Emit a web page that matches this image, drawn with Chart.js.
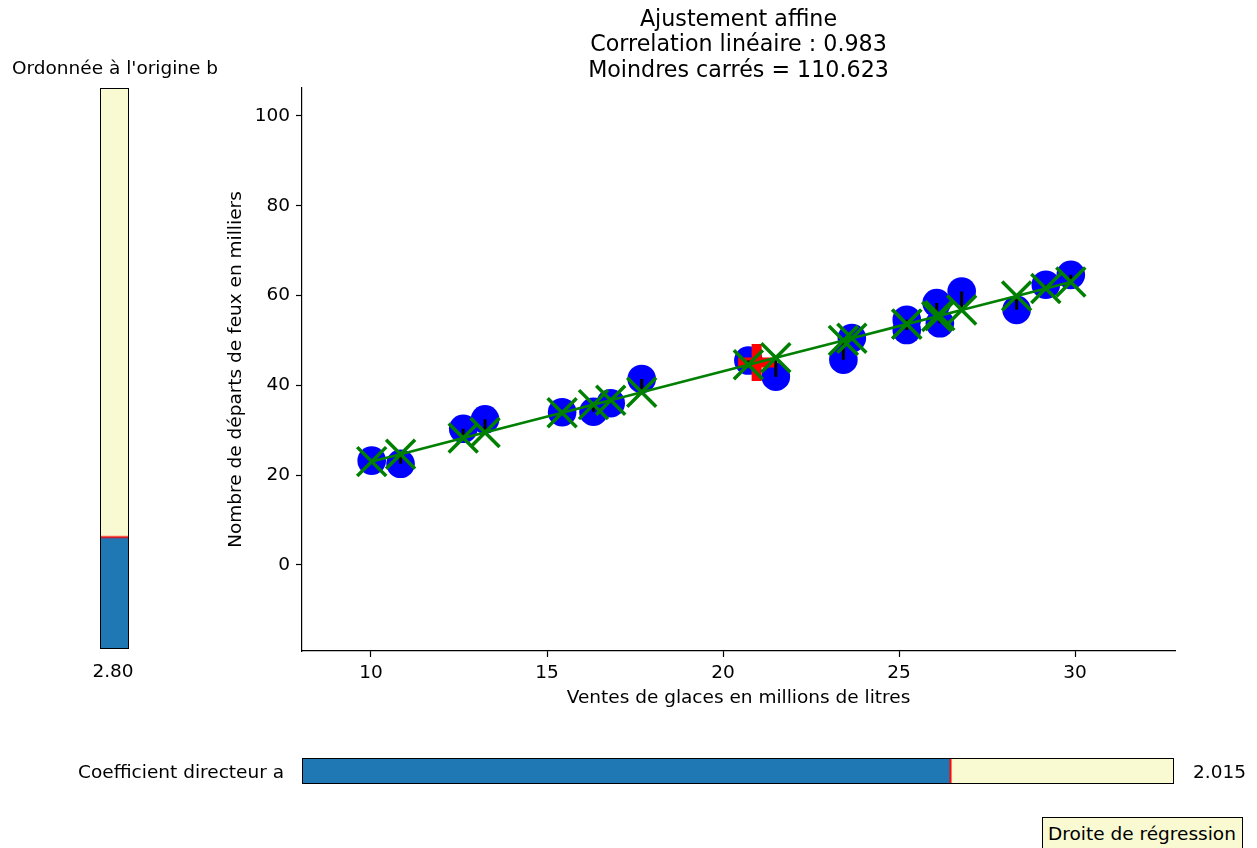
<!DOCTYPE html>
<html>
<head>
<meta charset="utf-8">
<script src="https://cdn.jsdelivr.net/npm/chart.js@4"></script>
<style>
  body { margin: 0; width: 1257px; height: 848px; overflow: hidden; background: #fff;
         font-family: "DejaVu Sans", sans-serif; font-size: 18.5px; color: #000; position: relative; }
  .abs { position: absolute; white-space: nowrap; }
  canvas.slider { position: absolute; background: #fafad2; border: 1px solid #000; }
  .btn { position: absolute; left: 1042px; top: 817px; width: 199px; height: 40px;
         background: #fafad2; border: 1px solid #000; }
</style>
</head>
<body>
<canvas id="main" width="1257" height="848" style="position:absolute;left:0;top:0"></canvas>

<div class="abs" style="left:115px;top:67px;transform:translate(-50%,-50%)">Ordonnée à l'origine b</div>
<canvas id="sliderB" class="slider" width="29" height="561" style="left:100px;top:88px"></canvas>
<div class="abs" style="left:113px;top:670px;transform:translate(-50%,-50%)" id="bLabel"></div>

<div class="abs" style="right:973px;top:771px;transform:translateY(-50%)">Coefficient directeur a</div>
<canvas id="sliderA" class="slider" width="872" height="26" style="left:302px;top:758px"></canvas>
<div class="abs" style="left:1193px;top:771px;transform:translateY(-50%)" id="aLabel"></div>

<div class="btn"></div>
<div class="abs" style="left:1142px;top:833px;transform:translate(-50%,-50%)">Droite de régression</div>

<script>
// data
const ventes = [10.02, 10.84, 12.62, 13.24, 15.43, 16.32, 16.81, 17.69, 20.72, 21.50,
                23.42, 23.66, 25.22, 25.22, 26.07, 26.16, 26.78, 28.34, 29.17, 29.88];
const departs = [23.2, 22.5, 30.3, 32.4, 34.0, 34.1, 36.0, 41.4, 45.5, 41.9,
                 45.7, 50.5, 54.6, 52.3, 58.3, 53.8, 60.9, 56.8, 62.4, 64.6];

const coefA = 2.015;
const coefB = 2.80;
const aMin = 0, aMax = 2.705;
const bMin = -20, bMax = 94;

const xTicks = [10, 15, 20, 25, 30];
const yTicks = [0, 20, 40, 60, 80, 100];
const titleLines = ['Ajustement affine', 'Correlation linéaire : 0.983', 'Moindres carrés = 110.623'];

Chart.defaults.font.family = 'DejaVu Sans';
Chart.defaults.font.size = 18.5;
Chart.defaults.color = '#000';
Chart.defaults.animation = false;

const fit = x => coefA * x + coefB;
const mean = arr => arr.reduce((s, v) => s + v, 0) / arr.length;

const points = ventes.map((x, i) => ({ x, y: departs[i] }));
const fitted = ventes.map(x => ({ x, y: fit(x) })).sort((p, q) => p.x - q.x);
// residual segments, broken with nulls
const residuals = ventes.flatMap((x, i) => [{ x, y: departs[i] }, { x, y: fit(x) }, { x, y: null }]);

const axisCommon = {
  grid: { display: true, drawOnChartArea: false, drawTicks: true, tickLength: 6, color: '#000', tickWidth: 1.2 },
  border: { display: true, color: '#000', width: 1.2 },
};

new Chart(document.getElementById('main'), {
  type: 'scatter',
  data: {
    datasets: [
      { data: points, pointRadius: 14.3, pointHoverRadius: 14.3, backgroundColor: '#0000ff', borderWidth: 0, order: 5 },
      { data: [{ x: mean(ventes), y: mean(departs) }], pointStyle: 'cross', pointRadius: 18.5,
        pointBorderWidth: 10, borderColor: '#ff0000', order: 4 },
      { data: residuals, showLine: true, spanGaps: false, pointRadius: 0, borderColor: '#000', borderWidth: 3, order: 3 },
      { data: fitted, showLine: true, pointRadius: 0, borderColor: '#008000', borderWidth: 2.6, order: 2 },
      { data: fitted, pointStyle: 'crossRot', pointRadius: 20.5, pointBorderWidth: 3.5, borderColor: '#008000', order: 1 }
    ]
  },
  options: {
    responsive: false,
    layout: { padding: { left: 222, right: 82, top: 0, bottom: 137 } },
    plugins: {
      legend: { display: false },
      tooltip: { enabled: false },
      title: {
        display: true, fullSize: false, text: titleLines,
        font: { size: 22.2, weight: 'normal', lineHeight: 1.15 },
        padding: { top: 7, bottom: 4.5 }
      }
    },
    scales: {
      x: {
        ...axisCommon,
        min: 8.04, max: 32.84,
        afterBuildTicks: s => { s.ticks = xTicks.map(v => ({ value: v })); },
        afterFit: s => { s.height = 60; },
        ticks: { padding: 5, maxRotation: 0 },
        title: { display: true, text: 'Ventes de glaces en millions de litres', padding: { top: 4, bottom: 2 } }
      },
      y: {
        ...axisCommon,
        min: -19.2, max: 106.2,
        afterBuildTicks: s => { s.ticks = yTicks.map(v => ({ value: v })); },
        afterFit: s => { s.width = 80; },
        ticks: { padding: 6 },
        title: { display: true, text: 'Nombre de départs de feux en milliers', padding: { top: 3, bottom: 4 } }
      }
    }
  }
});

// sliders
const sliderOpts = {
  responsive: false,
  layout: { padding: 0 },
  plugins: { legend: { display: false }, tooltip: { enabled: false } }
};

new Chart(document.getElementById('sliderB'), {
  type: 'bar',
  data: {
    labels: ['b'],
    datasets: [{ data: [[bMin, coefB]], backgroundColor: '#1f77b4', borderColor: '#ff0000',
                 borderWidth: { top: 2, bottom: 0, left: 0, right: 0 }, borderSkipped: false,
                 barPercentage: 1, categoryPercentage: 1 }]
  },
  options: { ...sliderOpts, scales: { x: { display: false }, y: { display: false, min: bMin, max: bMax } } }
});

new Chart(document.getElementById('sliderA'), {
  type: 'bar',
  data: {
    labels: ['a'],
    datasets: [{ data: [[aMin, coefA]], backgroundColor: '#1f77b4', borderColor: '#ff0000',
                 borderWidth: { right: 2, top: 0, bottom: 0, left: 0 }, borderSkipped: false,
                 barPercentage: 1, categoryPercentage: 1 }]
  },
  options: { ...sliderOpts, indexAxis: 'y', scales: { y: { display: false }, x: { display: false, min: aMin, max: aMax } } }
});

document.getElementById('bLabel').textContent = coefB.toFixed(2);
document.getElementById('aLabel').textContent = coefA.toFixed(3);
</script>
</body>
</html>
